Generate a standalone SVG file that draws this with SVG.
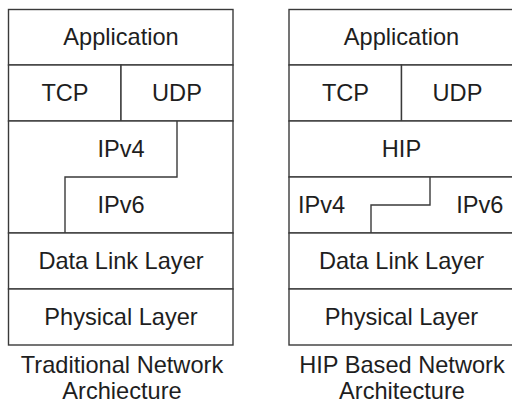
<svg xmlns="http://www.w3.org/2000/svg" width="512" height="405" viewBox="0 0 512 405">
<style>
.c{fill:#fff;stroke:#3a3a3a;stroke-width:1.4}
.d{fill:none;stroke:#3a3a3a;stroke-width:1.4}
text{font-family:"Liberation Sans",Arial,sans-serif;font-size:23.6px;fill:#1e1e1e}
.m{text-anchor:middle}
</style>
<rect width="512" height="405" fill="#fff"/>
<g id="trad">
<g id="t-app"><rect class="c" x="8.5" y="9.5" width="224.5" height="55.5"/><text class="m" x="121" y="45">Application</text></g>
<g id="t-tcp"><rect class="c" x="8.5" y="65" width="112.5" height="56"/><text class="m" x="65" y="101">TCP</text></g>
<g id="t-udp"><rect class="c" x="121" y="65" width="112" height="56"/><text class="m" x="177" y="101">UDP</text></g>
<g id="t-ip"><rect class="c" x="8.5" y="121" width="224.5" height="112"/><path class="d" d="M177 121V177H65V233"/><text class="m" x="121" y="157">IPv4</text><text class="m" x="121" y="213">IPv6</text></g>
<g id="t-dl"><rect class="c" x="8.5" y="233" width="224.5" height="56"/><text class="m" x="121" y="269">Data Link Layer</text></g>
<g id="t-ph"><rect class="c" x="8.5" y="289" width="224.5" height="56"/><text class="m" x="121" y="325">Physical Layer</text></g>
<text class="m" x="122" y="373">Traditional Network</text>
<text class="m" x="122" y="399">Archiecture</text>
</g>
<g id="hip">
<g id="h-app"><rect class="c" x="289" y="9.5" width="224.5" height="55.5"/><text class="m" x="401.5" y="45">Application</text></g>
<g id="h-tcp"><rect class="c" x="289" y="65" width="112.5" height="56"/><text class="m" x="345.5" y="101">TCP</text></g>
<g id="h-udp"><rect class="c" x="401.5" y="65" width="112" height="56"/><text class="m" x="457.5" y="101">UDP</text></g>
<g id="h-hip"><rect class="c" x="289" y="121" width="224.5" height="56"/><text class="m" x="401.5" y="157">HIP</text></g>
<g id="h-ip"><rect class="c" x="289" y="177" width="224.5" height="56"/><path class="d" d="M430 177V205H371V233"/><text x="298" y="213">IPv4</text><text x="503.5" y="213" text-anchor="end">IPv6</text></g>
<g id="h-dl"><rect class="c" x="289" y="233" width="224.5" height="56"/><text class="m" x="401.5" y="269">Data Link Layer</text></g>
<g id="h-ph"><rect class="c" x="289" y="289" width="224.5" height="56"/><text class="m" x="401.5" y="325">Physical Layer</text></g>
<text class="m" x="402" y="373">HIP Based Network</text>
<text class="m" x="402" y="399">Architecture</text>
</g>
<g id="connectors"/>
</svg>
